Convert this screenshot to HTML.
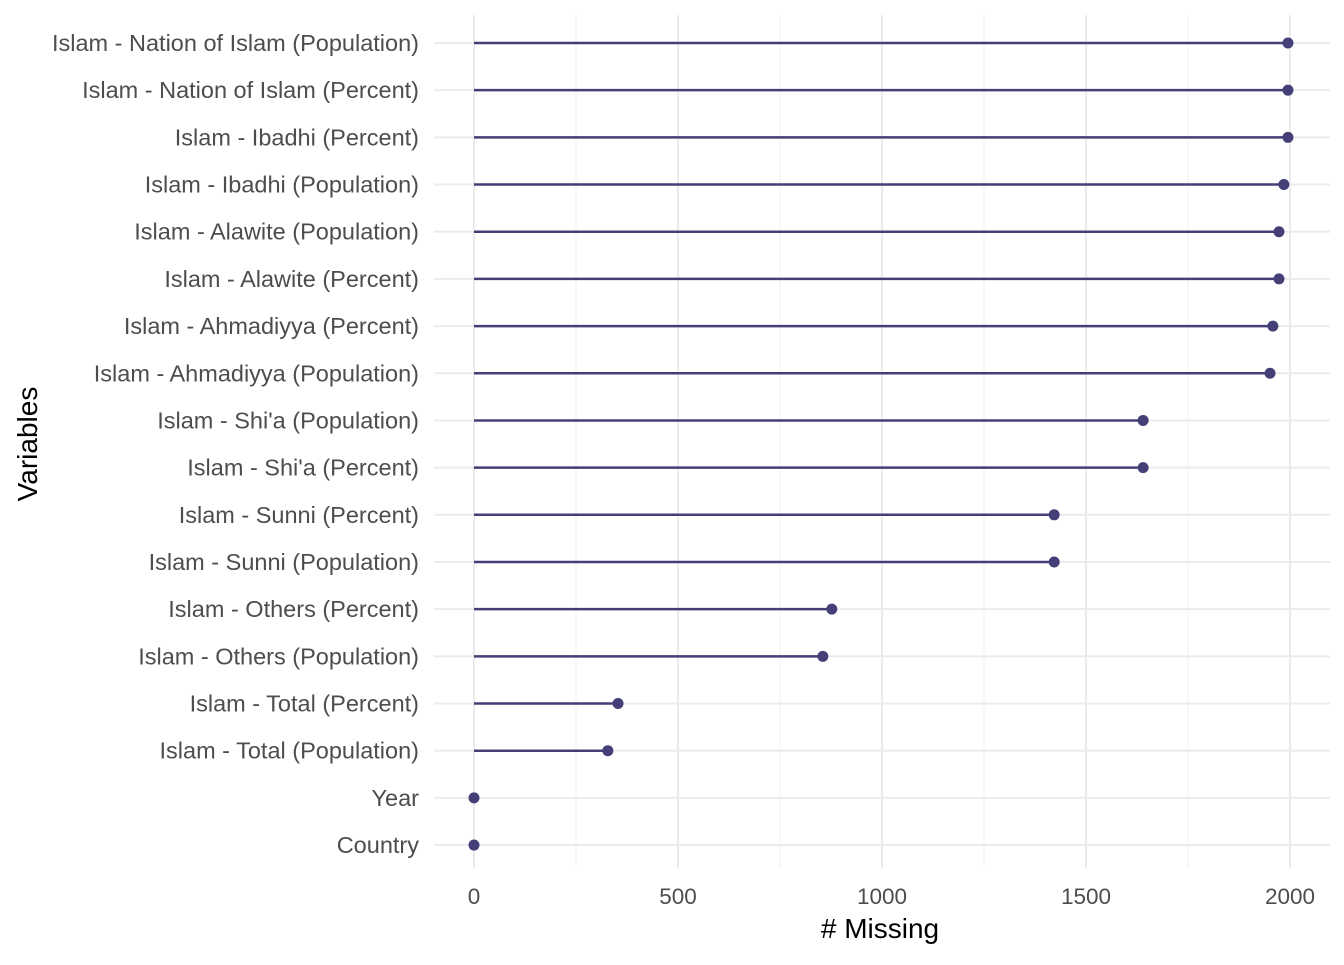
<!DOCTYPE html>
<html><head><meta charset="utf-8"><style>
body{margin:0;background:#fff;}
svg text{font-family:"Liberation Sans",sans-serif;}
</style></head><body>
<svg id="chart" width="1344" height="960" xmlns="http://www.w3.org/2000/svg">
<g id="grid"></g><g id="marks"></g><g id="labels"></g>
<text x="880" y="938" text-anchor="middle" font-size="28" fill="#000"># Missing</text>
<text transform="translate(37,444) rotate(-90)" text-anchor="middle" font-size="28" fill="#000">Variables</text>
</svg>
<script>
const categories=["Islam - Nation of Islam (Population)","Islam - Nation of Islam (Percent)","Islam - Ibadhi (Percent)","Islam - Ibadhi (Population)","Islam - Alawite (Population)","Islam - Alawite (Percent)","Islam - Ahmadiyya (Percent)","Islam - Ahmadiyya (Population)","Islam - Shi'a (Population)","Islam - Shi'a (Percent)","Islam - Sunni (Percent)","Islam - Sunni (Population)","Islam - Others (Percent)","Islam - Others (Population)","Islam - Total (Percent)","Islam - Total (Population)","Year","Country"];
const missing=[1995,1995,1995,1985,1973,1973,1958,1951,1640,1640,1422,1422,877,855,353,328,0,0];
const xTicks=[0,500,1000,1500,2000];
const xMinor=[250,750,1250,1750];
const NS="http://www.w3.org/2000/svg";
const xs=v=>474+v*0.408;
const ys=i=>43+i*47.18;
const panelLeft=434,panelRight=1330,panelTop=15,panelBottom=868;
function mk(t,a,p){const e=document.createElementNS(NS,t);for(const k in a)e.setAttribute(k,a[k]);p.appendChild(e);return e;}
const grid=document.getElementById('grid'),marks=document.getElementById('marks'),labels=document.getElementById('labels');
xMinor.forEach(v=>{const l=mk('line',{x1:xs(v),x2:xs(v),y1:panelTop,y2:panelBottom,stroke:'#f2f2f2','stroke-width':1.2},grid);

});
xTicks.forEach(v=>{const l=mk('line',{x1:xs(v),x2:xs(v),y1:panelTop,y2:panelBottom,stroke:'#ebebeb','stroke-width':2},grid);


const t=mk('text',{x:xs(v),y:904,'text-anchor':'middle','font-size':22.5,fill:'#4d4d4d'},labels);t.textContent=v;

});
categories.forEach((c,i)=>{const g=mk('line',{x1:panelLeft,x2:panelRight,y1:ys(i),y2:ys(i),stroke:'#ebebeb','stroke-width':2},grid);


const t=mk('text',{x:419,y:ys(i)+8,'text-anchor':'end','font-size':23.5,fill:'#4d4d4d'},labels);t.textContent=c;


const l=mk('line',{x1:xs(0),x2:xs(missing[i]),y1:ys(i),y2:ys(i),stroke:'#453F78','stroke-width':2.5},marks);


const p=mk('circle',{cx:xs(missing[i]),cy:ys(i),r:5.5,fill:'#453F78'},marks);

});
</script>
</body></html>
